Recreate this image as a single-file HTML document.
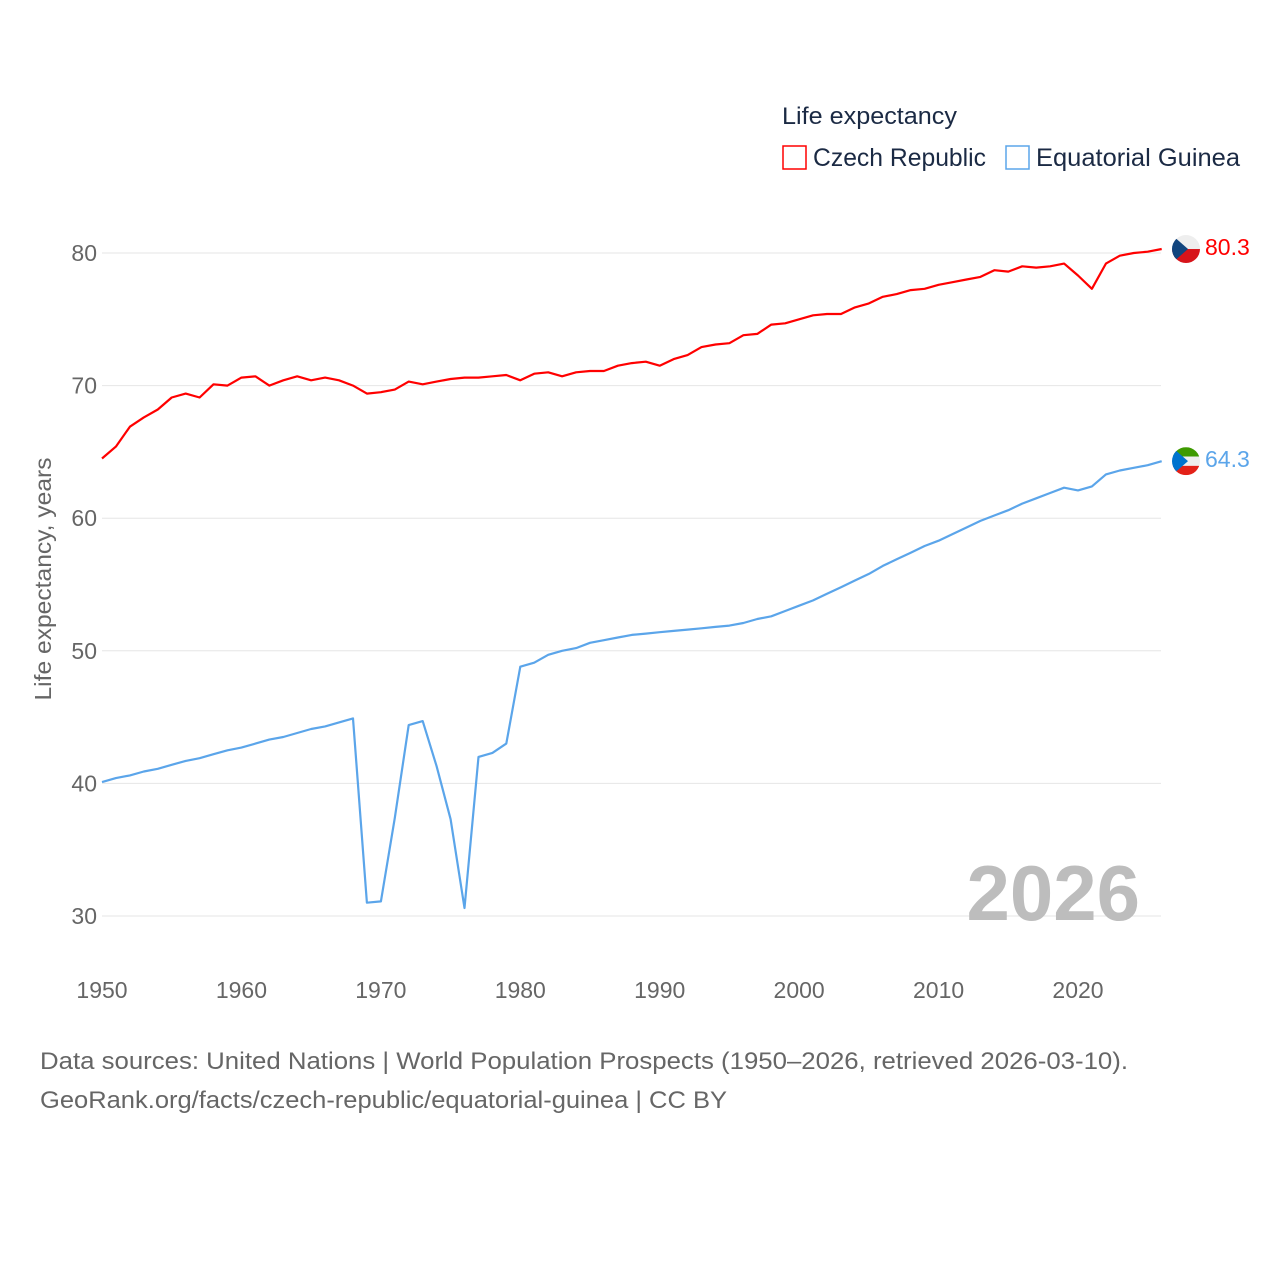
<!DOCTYPE html>
<html><head><meta charset="utf-8"><style>
body{margin:0;background:#fff;font-family:"Liberation Sans",sans-serif}
svg text{font-family:"Liberation Sans",sans-serif}
</style></head><body>
<svg id="chart" width="1280" height="1280" viewBox="0 0 1280 1280" xmlns="http://www.w3.org/2000/svg">
<rect width="1280" height="1280" fill="#fff"/>
<g id="grid"></g>
<g id="yticks"></g>
<g id="xticks"></g>
<text transform="translate(51,579) rotate(-90)" text-anchor="middle" font-size="23" fill="#666" textLength="243" lengthAdjust="spacingAndGlyphs">Life expectancy, years</text>
<text x="1140" y="920" text-anchor="end" font-size="78" font-weight="bold" fill="#bdbdbd">2026</text>
<g id="series"></g>
<g>
<text x="782" y="124" font-size="24" fill="#1b2a44" textLength="175" lengthAdjust="spacingAndGlyphs">Life expectancy</text>
<g>
<rect x="783" y="146" width="23" height="23" fill="none" stroke="#ff0000" stroke-width="1.5"/>
<text x="813" y="166" font-size="25" fill="#1b2a44" textLength="173" lengthAdjust="spacingAndGlyphs">Czech Republic</text></g>
<g>
<rect x="1006" y="146" width="23" height="23" fill="none" stroke="#5ba5ea" stroke-width="1.5"/>
<text x="1036" y="166" font-size="25" fill="#1b2a44" textLength="204" lengthAdjust="spacingAndGlyphs">Equatorial Guinea</text></g>
</g>
<text x="40" y="1069" font-size="24" fill="#666" textLength="1088" lengthAdjust="spacingAndGlyphs">Data sources: United Nations | World Population Prospects (1950–2026, retrieved 2026-03-10).</text>
<text x="40" y="1108" font-size="24" fill="#666" textLength="687" lengthAdjust="spacingAndGlyphs">GeoRank.org/facts/czech-republic/equatorial-guinea | CC BY</text>
</svg>
<script>
const years = [];
for (let y = 1950; y <= 2026; y++) years.push(y);
const czech = [64.5,65.4,66.9,67.6,68.2,69.1,69.4,69.1,70.1,70.0,70.6,70.7,70.0,70.4,70.7,70.4,70.6,70.4,70.0,69.4,69.5,69.7,70.3,70.1,70.3,70.5,70.6,70.6,70.7,70.8,70.4,70.9,71.0,70.7,71.0,71.1,71.1,71.5,71.7,71.8,71.5,72.0,72.3,72.9,73.1,73.2,73.8,73.9,74.6,74.7,75.0,75.3,75.4,75.4,75.9,76.2,76.7,76.9,77.2,77.3,77.6,77.8,78.0,78.2,78.7,78.6,79.0,78.9,79.0,79.2,78.3,77.3,79.2,79.8,80.0,80.1,80.3];
const eqGuinea = [40.1,40.4,40.6,40.9,41.1,41.4,41.7,41.9,42.2,42.5,42.7,43.0,43.3,43.5,43.8,44.1,44.3,44.6,44.9,31.0,31.1,37.4,44.4,44.7,41.3,37.3,30.6,42.0,42.3,43.0,48.8,49.1,49.7,50.0,50.2,50.6,50.8,51.0,51.2,51.3,51.4,51.5,51.6,51.7,51.8,51.9,52.1,52.4,52.6,53.0,53.4,53.8,54.3,54.8,55.3,55.8,56.4,56.9,57.4,57.9,58.3,58.8,59.3,59.8,60.2,60.6,61.1,61.5,61.9,62.3,62.1,62.4,63.3,63.6,63.8,64.0,64.3];
const yTicks = [30,40,50,60,70,80];
const xTicks = [1950,1960,1970,1980,1990,2000,2010,2020];
const NS = "http://www.w3.org/2000/svg";
const x = yr => 102 + (yr - 1950) * (976 / 70);
const y = v => 253 + (80 - v) * 13.26;
function mk(tag, attrs, parent){const e=document.createElementNS(NS,tag);for(const k in attrs)e.setAttribute(k,attrs[k]);parent.appendChild(e);return e;}
const grid=document.getElementById('grid'), yt=document.getElementById('yticks'), xt=document.getElementById('xticks'), ser=document.getElementById('series');
yTicks.forEach(t=>{
  const l=mk('line',{x1:102,x2:1161,y1:y(t),y2:y(t),stroke:'#e6e6e6','stroke-width':1},grid);
  
  
  const tx=mk('text',{x:97,y:y(t)+8,'text-anchor':'end','font-size':23,fill:'#666'},yt);
  tx.textContent=t;
  
  
});
xTicks.forEach(t=>{
  const tx=mk('text',{x:x(t),y:998,'text-anchor':'middle','font-size':23,fill:'#666'},xt);
  tx.textContent=t;
  
  
});
function line(data,color,name){
  const d=data.map((v,i)=>(i?'L':'M')+x(years[i]).toFixed(1)+','+y(v).toFixed(1)).join('');
  const p=mk('path',{d:d,fill:'none',stroke:color,'stroke-width':2.2,'stroke-linejoin':'round'},ser);
  
  
  const last=data[data.length-1], cy=y(last);
  const t=mk('text',{x:1205,y:cy+6,'font-size':23,fill:color},ser);
  t.textContent=last.toFixed(1);
  
  
  return cy;
}
const cy1=line(czech,'#ff0000','czech-republic');
const cy2=line(eqGuinea,'#5ba5ea','equatorial-guinea');
function flag(cy,top,mid,bot,tri,name){
  const g=mk('g',{},ser);
  
  
  const cx=1186,r=14;
  const id='c'+name;
  const cp=mk('clipPath',{id:id},g); mk('circle',{cx:cx,cy:cy,r:r},cp);
  const gg=mk('g',{'clip-path':'url(#'+id+')'},g);
  if(mid){
    mk('rect',{x:cx-r,y:cy-r,width:2*r,height:r*2/3,fill:top},gg);
    mk('rect',{x:cx-r,y:cy-r/3,width:2*r,height:r*2/3,fill:mid},gg);
    mk('rect',{x:cx-r,y:cy+r/3,width:2*r,height:r*2/3,fill:bot},gg);
  } else {
    mk('rect',{x:cx-r,y:cy-r,width:2*r,height:r,fill:top},gg);
    mk('rect',{x:cx-r,y:cy,width:2*r,height:r,fill:bot},gg);
  }
  mk('polygon',{points:(cx-r)+','+(cy-r)+' '+(cx+2)+','+cy+' '+(cx-r)+','+(cy+r),fill:tri},gg);
}
flag(cy1,'#eeeeee',null,'#d7141a','#11457e','czech');
flag(cy2,'#3e9a00','#eeeeee','#e32118','#0073ce','eq-guinea');
</script>
</body></html>
